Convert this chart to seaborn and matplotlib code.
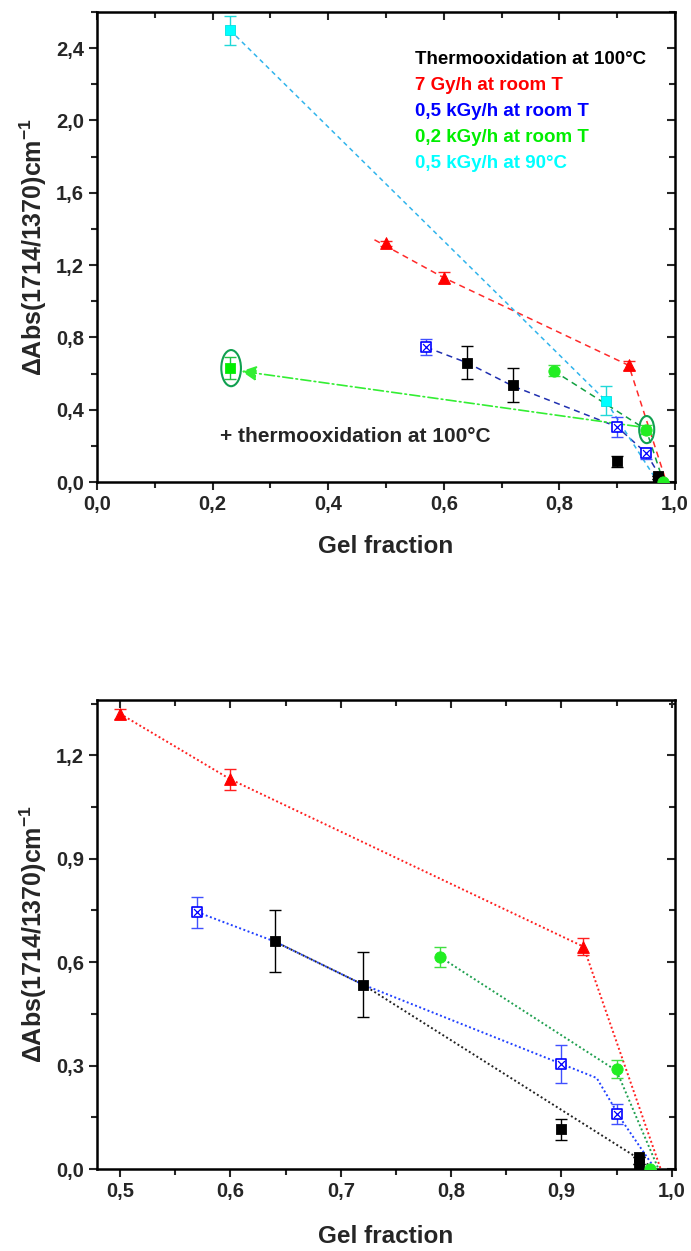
import matplotlib
matplotlib.use('Agg')
import matplotlib.pyplot as plt
from matplotlib.patches import Ellipse
from matplotlib.ticker import MultipleLocator, FuncFormatter
import seaborn as sns

# Thermooxidation at 100°C (black squares)
thermo_x = [0.64, 0.72, 0.90, 0.97, 0.97]
thermo_y = [0.66, 0.535, 0.115, 0.035, 0.015]
thermo_err = [0.09, 0.095, 0.03, 0.0, 0.0]

# 7 Gy/h at room T (red triangles)
red_x = [0.50, 0.60, 0.92]
red_y = [1.32, 1.13, 0.645]
red_err = [0.015, 0.03, 0.025]

# 0,5 kGy/h at room T (blue crossed squares)
blue_x = [0.57, 0.90, 0.95]
blue_y = [0.745, 0.305, 0.16]
blue_err = [0.045, 0.055, 0.03]

# 0,2 kGy/h at room T (green circles)
green_x = [0.79, 0.95, 0.98]
green_y = [0.615, 0.29, 0.0]
green_err = [0.03, 0.025, 0.0]

# 0,5 kGy/h at 90°C (cyan squares)
cyan_x = [0.23, 0.88]
cyan_y = [2.50, 0.45]
cyan_err = [0.08, 0.08]

# 0,2 kGy/h + thermooxidation (green square)
gt_x = [0.23]
gt_y = [0.63]
gt_err = [0.06]

# guide lines, upper panel (dashed)
red_dash_x = [0.48, 0.60, 0.92, 0.985]
red_dash_y = [1.34, 1.13, 0.645, 0.0]
blue_dash_x = [0.57, 0.64, 0.72, 0.90, 0.95, 0.98]
blue_dash_y = [0.745, 0.66, 0.53, 0.305, 0.16, 0.0]
green_dash_x = [0.79, 0.95, 0.98]
green_dash_y = [0.615, 0.29, 0.0]
cyan_dash_x = [0.23, 0.88, 0.97]
cyan_dash_y = [2.50, 0.45, 0.0]

# guide lines, lower panel (dotted)
red_dot_x = [0.50, 0.60, 0.92, 0.99]
red_dot_y = [1.32, 1.13, 0.645, 0.0]
blue_dot_x = [0.57, 0.64, 0.72, 0.90, 0.932, 0.955, 0.985]
blue_dot_y = [0.745, 0.66, 0.535, 0.305, 0.264, 0.14, 0.0]
green_dot_x = [0.79, 0.95, 0.988]
green_dot_y = [0.615, 0.285, 0.0]
black_dot_x = [0.64, 0.72, 0.985]
black_dot_y = [0.66, 0.535, 0.0]

legend_labels = ['Thermooxidation at 100°C', '7 Gy/h at room T', '0,5 kGy/h at room T',
                 '0,2 kGy/h at room T', '0,5 kGy/h at 90°C']
legend_colors = ['black', '#ff0000', '#0000ff', '#00ee00', '#00ffff']

sns.set_style('white')
plt.rcParams['font.family'] = ['Liberation Sans', 'DejaVu Sans']
plt.rcParams['font.weight'] = 'bold'
plt.rcParams['mathtext.fontset'] = 'custom'
plt.rcParams['mathtext.rm'] = 'Liberation Sans:bold'
plt.rcParams['mathtext.default'] = 'rm'

fig = plt.figure(figsize=(6.91, 12.51), dpi=100)
ax1 = fig.add_axes([0.1404, 0.6147, 0.8365, 0.3757])
ax2 = fig.add_axes([0.1404, 0.0655, 0.8365, 0.3749])

comma = FuncFormatter(lambda v, p: f'{v:.1f}'.replace('.', ','))
ylab = 'ΔAbs(1714/1370)cm$^{-1}$'


def markers(ax, ms=55):
    ax.errorbar(thermo_x, thermo_y, yerr=thermo_err, fmt='none', ecolor='black', elinewidth=1, capsize=4, zorder=3)
    ax.errorbar(red_x, red_y, yerr=red_err, fmt='none', ecolor='#ff2020', elinewidth=1, capsize=4, zorder=3)
    ax.errorbar(blue_x, blue_y, yerr=blue_err, fmt='none', ecolor='#4050ff', elinewidth=1, capsize=4, zorder=3)
    ax.errorbar(green_x, green_y, yerr=green_err, fmt='none', ecolor='#40e040', elinewidth=1, capsize=4, zorder=3)
    sns.scatterplot(x=thermo_x, y=thermo_y, marker='s', s=ms, color='black', edgecolor='black', ax=ax, zorder=4)
    sns.scatterplot(x=red_x, y=red_y, marker='^', s=ms * 1.3, color='#ff0000', edgecolor='#ff0000', ax=ax, zorder=4)
    sns.scatterplot(x=blue_x, y=blue_y, marker='s', s=ms * 0.9, facecolor='white', edgecolor='#0000ff',
                    linewidth=1.2, ax=ax, zorder=4)
    sns.scatterplot(x=blue_x, y=blue_y, marker='x', s=ms * 0.45, color='#0000ff', linewidth=0.9, ax=ax, zorder=5)
    sns.scatterplot(x=green_x, y=green_y, marker='o', s=ms * 1.2, color='#22ee22', edgecolor='#22ee22', ax=ax, zorder=4)


def style(ax, xmaj, xmin, ymaj, ymin):
    ax.xaxis.set_major_locator(MultipleLocator(xmaj))
    ax.xaxis.set_minor_locator(MultipleLocator(xmin))
    ax.yaxis.set_major_locator(MultipleLocator(ymaj))
    ax.yaxis.set_minor_locator(MultipleLocator(ymin))
    ax.xaxis.set_major_formatter(comma)
    ax.yaxis.set_major_formatter(comma)
    ax.tick_params(which='both', bottom=True, left=True, top=True, right=True, direction='out', width=1.5,
                   labeltop=False, labelright=False)
    ax.tick_params(which='major', length=6, labelsize=14.5)
    ax.tick_params(which='minor', length=4)
    for sp in ax.spines.values():
        sp.set_linewidth(1.8)
        sp.set_color('black')
    ax.set_xlabel('Gel fraction', fontsize=17.5, fontweight='bold')
    ax.set_ylabel(ylab, fontsize=18, fontweight='bold', labelpad=5)


# ---- upper panel ----
sns.lineplot(x=red_dash_x, y=red_dash_y, color='#ff2a2a', lw=1.1, linestyle=(0, (4, 3)), sort=False, estimator=None, ax=ax1)
sns.lineplot(x=blue_dash_x, y=blue_dash_y, color='#2030b0', lw=1.1, linestyle=(0, (4, 3)), sort=False, estimator=None, ax=ax1)
sns.lineplot(x=green_dash_x, y=green_dash_y, color='#10a040', lw=1.1, linestyle=(0, (4, 3)), sort=False, estimator=None, ax=ax1)
sns.lineplot(x=cyan_dash_x, y=cyan_dash_y, color='#30b4ec', lw=1.1, linestyle=(0, (3, 2.5)), sort=False, estimator=None, ax=ax1)
ax1.errorbar(cyan_x, cyan_y, yerr=cyan_err, fmt='none', ecolor='#20d8d8', elinewidth=1, capsize=4, zorder=3)
ax1.errorbar(gt_x, gt_y, yerr=gt_err, fmt='none', ecolor='#20c040', elinewidth=1, capsize=4, zorder=3)
markers(ax1)
sns.scatterplot(x=cyan_x, y=cyan_y, marker='s', s=55, color='#00ffff', edgecolor='#00e0e0', ax=ax1, zorder=4)
sns.scatterplot(x=gt_x, y=gt_y, marker='s', s=50, color='#00ee00', edgecolor='#00ee00', ax=ax1, zorder=4)

ax1.annotate('', xy=(0.245, 0.615), xytext=(0.94, 0.305),
             arrowprops=dict(arrowstyle='-|>,head_length=0.9,head_width=0.45', color='#33ee33',
                             lw=1.2, linestyle=(0, (6, 2, 1, 2))), zorder=3)
ax1.add_patch(Ellipse((0.232, 0.63), 0.034, 0.2, fill=False, edgecolor='#10a050', lw=1.5, zorder=5))
ax1.add_patch(Ellipse((0.951, 0.29), 0.026, 0.15, fill=False, edgecolor='#10a050', lw=1.5, zorder=5))

for i, (lab, col) in enumerate(zip(legend_labels, legend_colors)):
    ax1.text(0.55, 2.34 - i * 0.145, lab, color=col, fontsize=13.5, fontweight='bold', va='center', ha='left')
ax1.text(0.212, 0.25, '+ thermooxidation at 100°C', fontsize=15, fontweight='bold', va='center', ha='left')

ax1.set_xlim(0, 1.0)
ax1.set_ylim(0, 2.6)
style(ax1, 0.2, 0.1, 0.4, 0.2)
ax1.xaxis.labelpad = 15

# ---- lower panel ----
sns.lineplot(x=red_dot_x, y=red_dot_y, color='#ff2020', lw=1.4, linestyle=(0, (1, 1.3)), sort=False, estimator=None, ax=ax2)
sns.lineplot(x=blue_dot_x, y=blue_dot_y, color='#2040ff', lw=1.4, linestyle=(0, (1, 1.3)), sort=False, estimator=None, ax=ax2)
sns.lineplot(x=green_dot_x, y=green_dot_y, color='#20a050', lw=1.4, linestyle=(0, (1, 1.3)), sort=False, estimator=None, ax=ax2)
sns.lineplot(x=black_dot_x, y=black_dot_y, color='#222222', lw=1.4, linestyle=(0, (1, 1.3)), sort=False, estimator=None, ax=ax2)
markers(ax2)

ax2.set_xlim(0.479, 1.003)
ax2.set_ylim(0, 1.36)
style(ax2, 0.1, 0.05, 0.3, 0.15)
ax2.xaxis.labelpad = 17

# mirror ticks on top/right point inward
for ax in (ax1, ax2):
    for t in ax.xaxis.get_majorticklines()[1::2] + ax.xaxis.get_minorticklines()[1::2]:
        t.set_marker(3)
    for t in ax.yaxis.get_majorticklines()[1::2] + ax.yaxis.get_minorticklines()[1::2]:
        t.set_marker(0)

fig.savefig('out.png', dpi=100)
